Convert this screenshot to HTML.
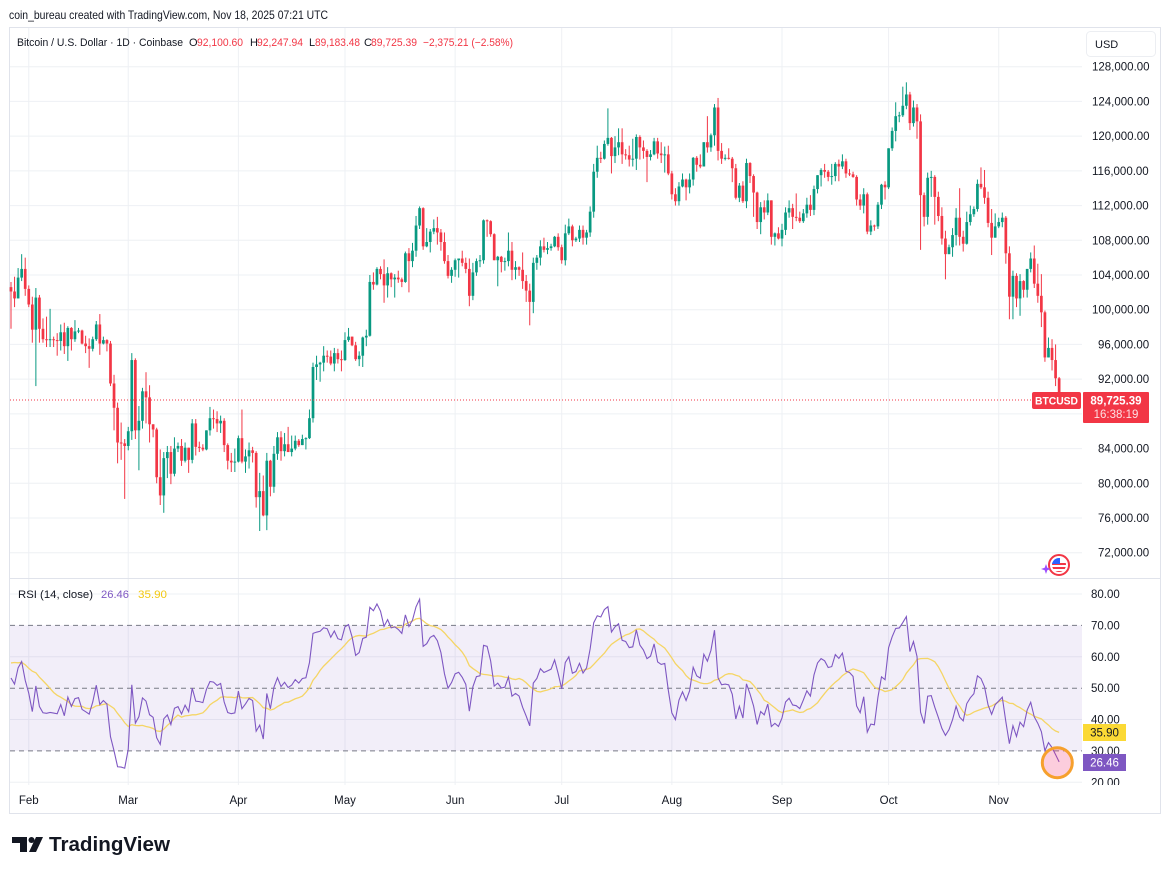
<!DOCTYPE html>
<html>
<head>
<meta charset="utf-8">
<style>
  html,body{margin:0;padding:0;background:#fff;}
  svg{display:block;}
  text{font-family:"Liberation Sans",Arial,sans-serif;}
</style>
</head>
<body>
<svg id="c" width="1170" height="874" viewBox="0 0 1170 874" xmlns="http://www.w3.org/2000/svg">
  <rect x="0" y="0" width="1170" height="874" fill="#ffffff"/>
  <!-- header -->
  <text x="9" y="19" font-size="12" fill="#131722" textLength="319" lengthAdjust="spacingAndGlyphs">coin_bureau created with TradingView.com, Nov 18, 2025 07:21 UTC</text>
  <!-- frame -->
  <rect x="9.5" y="27.5" width="1151" height="786" fill="none" stroke="#e0e3eb" stroke-width="1"/>

  <g id="grid"></g>

  <!-- RSI band -->
  <rect x="10" y="625.4" width="1072" height="125.5" fill="rgba(126,87,194,0.1)"/>
  <g stroke="#787b86" stroke-width="1" stroke-dasharray="5 4" fill="none">
    <line x1="10" y1="625.4" x2="1082" y2="625.4"/>
    <line x1="10" y1="688.2" x2="1082" y2="688.2"/>
    <line x1="10" y1="750.9" x2="1082" y2="750.9"/>
  </g>

  <!-- pane separator -->
  <line x1="10" y1="578.5" x2="1160" y2="578.5" stroke="#e0e3eb" stroke-width="1"/>

  <g id="candles"></g>

  <defs>
    <clipPath id="rsiclip"><rect x="10" y="579" width="1072" height="206"/></clipPath>
    <clipPath id="axclip"><rect x="1083" y="579" width="77" height="206"/></clipPath>
  </defs>
  <g id="rsi" clip-path="url(#rsiclip)"></g>

  <!-- current price line -->
  <line x1="10" y1="400" x2="1031" y2="400" stroke="#f23645" stroke-width="1" stroke-dasharray="1 2"/>

  <!-- legend -->
  <text x="17" y="46" font-size="11" fill="#131722" textLength="166" lengthAdjust="spacingAndGlyphs">Bitcoin / U.S. Dollar · 1D · Coinbase</text>
  <text x="189" y="46" font-size="11" fill="#131722">O</text>
  <text x="197" y="46" font-size="11" fill="#f23645" textLength="46" lengthAdjust="spacingAndGlyphs">92,100.60</text>
  <text x="250" y="46" font-size="11" fill="#131722">H</text>
  <text x="257" y="46" font-size="11" fill="#f23645" textLength="46" lengthAdjust="spacingAndGlyphs">92,247.94</text>
  <text x="309" y="46" font-size="11" fill="#131722">L</text>
  <text x="315" y="46" font-size="11" fill="#f23645" textLength="45" lengthAdjust="spacingAndGlyphs">89,183.48</text>
  <text x="364" y="46" font-size="11" fill="#131722">C</text>
  <text x="371" y="46" font-size="11" fill="#f23645" textLength="46" lengthAdjust="spacingAndGlyphs">89,725.39</text>
  <text x="423" y="46" font-size="11" fill="#f23645" textLength="90" lengthAdjust="spacingAndGlyphs">−2,375.21 (−2.58%)</text>

  <!-- USD button -->
  <rect x="1086.5" y="31.5" width="69" height="25" rx="4" fill="#fff" stroke="#eceef2"/>
  <text x="1095" y="48" font-size="11" fill="#131722">USD</text>

  <!-- price axis -->
  <g font-size="11.5" fill="#131722">
    <text x="1092" y="70.7">128,000.00</text>
    <text x="1092" y="105.4">124,000.00</text>
    <text x="1092" y="140.1">120,000.00</text>
    <text x="1092" y="174.8">116,000.00</text>
    <text x="1092" y="209.6">112,000.00</text>
    <text x="1092" y="244.3">108,000.00</text>
    <text x="1092" y="279.0">104,000.00</text>
    <text x="1092" y="313.7">100,000.00</text>
    <text x="1098" y="348.4">96,000.00</text>
    <text x="1098" y="383.1">92,000.00</text>
    <text x="1098" y="452.6">84,000.00</text>
    <text x="1098" y="487.3">80,000.00</text>
    <text x="1098" y="522.0">76,000.00</text>
    <text x="1098" y="556.7">72,000.00</text>
  </g>

  <!-- price labels -->
  <rect x="1032" y="392" width="49" height="17" rx="2" fill="#f23645"/>
  <text x="1056.5" y="404.5" font-size="11" fill="#fff" text-anchor="middle" font-weight="bold" textLength="43" lengthAdjust="spacingAndGlyphs">BTCUSD</text>
  <rect x="1083" y="392" width="66" height="31" rx="1" fill="#f23645"/>
  <text x="1116" y="404.5" font-size="11.5" fill="#fff" text-anchor="middle" font-weight="bold">89,725.39</text>
  <text x="1116" y="418" font-size="11.5" fill="#fde0e3" text-anchor="middle">16:38:19</text>

  <!-- flag icon -->
  <g>
    <circle cx="1059" cy="565" r="10" fill="#fff" stroke="#f23645" stroke-width="2"/>
    <clipPath id="fc"><circle cx="1059" cy="565" r="7"/></clipPath>
    <g clip-path="url(#fc)">
      <rect x="1051" y="557" width="16" height="16" fill="#fff"/>
      <rect x="1051" y="563" width="16" height="2" fill="#f23645"/>
      <rect x="1051" y="567" width="16" height="2" fill="#f23645"/>
      <rect x="1051" y="571" width="16" height="2" fill="#f23645"/>
      <rect x="1051" y="557" width="9" height="7" fill="#2962ff"/>
    </g>
    <path d="M1046,564 L1047.3,567.7 L1051,569 L1047.3,570.3 L1046,574 L1044.7,570.3 L1041,569 L1044.7,567.7 Z" fill="#9c4dff"/>
  </g>

  <!-- RSI legend -->
  <text x="18" y="598" font-size="11" fill="#131722" textLength="75" lengthAdjust="spacingAndGlyphs">RSI (14, close)</text>
  <text x="101" y="598" font-size="11" fill="#7e57c2" textLength="28" lengthAdjust="spacingAndGlyphs">26.46</text>
  <text x="138" y="598" font-size="11" fill="#f2c811" textLength="29" lengthAdjust="spacingAndGlyphs">35.90</text>

  <!-- RSI axis -->
  <g font-size="11.5" fill="#131722" clip-path="url(#axclip)">
    <text x="1091" y="598">80.00</text>
    <text x="1091" y="629.4">70.00</text>
    <text x="1091" y="660.8">60.00</text>
    <text x="1091" y="692.2">50.00</text>
    <text x="1091" y="723.5">40.00</text>
    <text x="1091" y="754.9">30.00</text>
    <text x="1091" y="786.3">20.00</text>
  </g>
  <rect x="1083" y="724" width="43" height="17" fill="#fbd935"/>
  <text x="1104.5" y="736.5" font-size="11.5" fill="#131722" text-anchor="middle">35.90</text>
  <rect x="1083" y="754" width="43" height="17" fill="#7e57c2"/>
  <text x="1104.5" y="766.5" font-size="11.5" fill="#fff" text-anchor="middle">26.46</text>

  <!-- highlight circle -->
  <circle cx="1057.3" cy="762.7" r="15" fill="rgba(242,54,118,0.25)" stroke="#f6a02d" stroke-width="3"/>

  <!-- time axis -->
  <g font-size="11.5" fill="#131722" text-anchor="middle">
    <text x="28.8" y="804">Feb</text>
    <text x="128.2" y="804">Mar</text>
    <text x="238.4" y="804">Apr</text>
    <text x="345" y="804">May</text>
    <text x="455.1" y="804">Jun</text>
    <text x="561.7" y="804">Jul</text>
    <text x="671.9" y="804">Aug</text>
    <text x="782" y="804">Sep</text>
    <text x="888.6" y="804">Oct</text>
    <text x="998.7" y="804">Nov</text>
  </g>

  <!-- TradingView logo -->
  <g fill="#131722">
    <path d="M12,837 H27 V852 H20 V843 H12 Z"/>
    <circle cx="31.5" cy="840" r="3"/>
    <path d="M36,837 H43 L36,852 H29 Z"/>
  </g>
  <text x="49" y="851" font-size="20.5" font-weight="bold" fill="#131722" textLength="121" lengthAdjust="spacingAndGlyphs">TradingView</text>
</svg>

<script>
(function(){
  var NS="http://www.w3.org/2000/svg";
  function el(tag, attrs, parent){
    var e=document.createElementNS(NS,tag);
    for(var k in attrs) e.setAttribute(k, attrs[k]);
    parent.appendChild(e); return e;
  }
  function X(i){return 11+i*3.553;}
  function YP(p){return 66.7+(128-p)*8.679;}
  function YR(r){return 782.3-(r-20)*3.138;}

  // grid
  var g=document.getElementById('grid');
  var gc="#eef0f4";
  for(var p=128;p>=72;p-=4){
    var y=YP(p);
    el('line',{x1:10,y1:y,x2:1082,y2:y,stroke:gc,'stroke-width':1},g);
  }
  [80,60,40,20].forEach(function(r){
    var y=YR(r);
    el('line',{x1:10,y1:y,x2:1082,y2:y,stroke:gc,'stroke-width':1},g);
  });
  [5,33,64,94,125,155,186,217,247,278].forEach(function(i){
    var x=X(i);
    el('line',{x1:x,y1:28,x2:x,y2:785,stroke:gc,'stroke-width':1},g);
  });

  var raw = "103.2 97.8 102.1;103.8 100.3 101.3;104.8 101.3 103.7;106.4 103.3 104.7;106.0 101.6 102.4;"+
  // Feb
  "102.8 100.3 100.6;101.5 96.2 97.7;102.5 91.2 101.4;101.7 96.2 97.8;99.0 96.2 96.6;99.2 95.7 96.5;100.1 95.7 96.6;96.9 95.7 96.5;97.3 94.7 96.4;98.3 95.3 97.4;"+
  "98.5 94.9 95.8;98.1 94.1 97.9;98.0 95.3 96.6;98.8 96.3 97.5;97.9 97.3 97.6;97.7 96.0 96.1;97.0 95.0 95.8;96.7 93.3 95.5;96.9 95.2 96.6;98.7 96.4 98.3;"+
  "99.5 94.8 96.1;96.9 96.0 96.5;96.6 95.2 96.1;96.4 91.2 91.5;92.5 86.1 88.7;89.3 82.3 84.7;87.0 82.7 84.6;85.1 78.2 84.3;"+
  // Mar
  "86.5 83.8 86.0;95.0 85.0 94.2;94.4 85.1 86.1;88.9 81.5 87.2;91.0 86.3 90.6;92.8 86.9 89.9;91.3 84.7 86.8;86.8 85.3 86.2;86.4 80.0 80.7;83.9 77.5 78.6;"+
  "83.6 76.6 82.9;84.3 80.6 83.6;84.3 79.9 81.1;85.3 80.8 84.0;84.7 83.6 84.3;85.1 82.0 82.6;84.7 82.4 84.1;84.1 81.2 82.7;87.4 82.3 86.9;87.4 83.2 84.2;"+
  "84.8 83.6 84.1;84.5 83.7 83.9;86.1 83.8 86.1;88.8 85.5 87.5;88.5 86.3 87.4;88.3 85.9 86.9;87.8 85.8 87.2;87.5 83.6 84.4;84.6 81.6 82.6;83.5 81.3 82.4;84.0 81.3 82.5;"+
  // Apr
  "85.5 82.4 85.2;88.5 82.3 82.5;83.9 81.2 83.1;84.7 81.7 83.8;84.2 82.4 83.5;83.7 77.2 78.4;81.2 74.5 79.1;80.9 76.2 76.3;83.5 74.6 82.6;82.7 78.5 79.6;"+
  "84.3 78.9 83.4;85.9 82.7 85.3;86.0 82.6 83.7;85.8 83.1 84.5;86.5 83.6 83.6;85.5 83.1 84.0;85.5 83.8 84.9;85.1 84.2 84.4;85.6 84.4 85.1;85.3 83.9 85.2;"+
  "88.5 85.1 87.5;93.9 87.0 93.4;94.7 91.9 93.7;94.0 91.7 93.9;95.8 92.9 94.7;95.3 93.9 94.6;95.3 93.6 93.8;95.6 92.9 95.0;95.5 93.8 94.3;95.3 92.9 94.2;"+
  // May
  "97.4 94.1 96.5;97.9 96.3 96.9;96.9 95.8 95.9;96.3 94.1 94.3;95.2 93.5 94.7;96.9 93.4 96.8;97.7 95.8 97.0;104.0 96.9 103.2;104.3 102.3 102.9;104.9 102.8 104.7;"+
  "105.0 103.5 104.1;105.8 100.8 102.8;104.9 101.4 104.2;104.3 102.6 103.5;104.1 101.4 103.7;104.5 103.1 103.5;103.7 102.6 103.2;106.7 103.1 106.5;107.1 102.0 105.6;107.7 104.9 106.8;"+
  "110.8 106.1 109.7;111.9 109.3 111.7;111.8 106.9 107.3;109.4 107.2 107.8;109.3 106.6 109.0;110.4 108.7 109.4;110.7 107.5 108.9;109.3 106.8 107.8;108.9 105.3 105.6;106.3 103.6 103.9;104.9 103.1 104.6;"+
  // Jun
  "105.9 103.8 105.7;105.9 103.7 105.9;106.8 105.0 105.4;106.0 104.2 104.7;105.9 100.4 101.6;105.4 101.1 104.3;105.9 103.9 105.6;106.3 104.9 105.7;110.4 105.3 110.3;110.4 108.4 110.2;"+
  "110.3 108.4 108.7;108.8 105.7 105.7;106.2 102.7 106.1;106.2 104.3 105.5;106.0 104.5 105.6;108.9 105.0 106.8;107.8 103.4 104.6;105.6 103.5 104.9;105.0 103.9 104.6;106.6 102.4 103.3;"+
  "104.0 100.9 102.2;103.0 98.2 100.9;106.0 99.6 105.4;106.3 104.6 106.0;108.0 105.1 107.3;108.3 106.6 106.9;107.8 106.4 107.1;107.6 106.8 107.3;108.5 107.2 108.4;108.8 106.8 107.2;"+
  // Jul
  "107.5 105.3 105.7;109.8 105.1 108.8;110.5 108.6 109.6;109.8 107.3 108.0;108.4 107.8 108.2;109.7 107.8 109.2;109.7 107.5 108.3;109.2 107.5 108.9;111.9 108.4 111.3;116.8 110.6 115.9;"+
  "118.9 115.2 117.5;118.2 116.9 117.4;119.5 117.3 119.1;123.2 118.9 119.8;119.9 115.7 117.7;120.0 116.9 118.7;120.9 117.8 119.3;120.9 116.8 117.9;118.5 117.3 117.8;118.9 116.5 117.3;"+
  "119.7 116.5 117.4;120.2 116.1 119.9;120.1 117.3 118.7;119.5 117.4 118.3;118.5 114.7 117.6;118.4 117.2 117.9;119.8 117.8 119.4;119.8 117.4 118.0;119.3 116.9 117.8;118.8 115.8 117.9;118.9 115.5 115.7;"+
  // Aug
  "116.0 112.7 113.3;114.0 112.0 112.5;114.7 112.0 114.2;115.7 114.1 115.0;115.1 112.6 114.1;115.7 113.4 115.0;117.6 114.3 117.5;117.7 115.9 116.7;117.9 116.3 116.5;119.3 116.5 119.3;"+
  "122.3 118.1 118.7;120.3 118.2 120.1;123.7 118.9 123.3;124.4 117.2 118.3;119.2 116.8 117.4;117.9 117.2 117.5;118.6 117.3 117.4;117.6 114.7 116.3;116.8 112.7 112.9;114.6 112.4 114.3;"+
  "114.8 112.3 112.5;117.4 111.7 116.9;117.0 114.6 115.4;115.6 110.7 113.5;113.6 109.3 110.1;112.4 108.7 111.8;112.6 110.4 111.2;113.4 110.9 112.6;112.6 107.5 108.4;108.9 107.4 108.8;109.5 108.1 108.2;"+
  // Sep
  "109.9 107.3 109.2;111.8 108.6 111.2;112.6 110.6 111.7;112.2 109.3 110.7;113.4 110.2 110.6;111.3 110.0 110.2;111.6 110.0 111.1;112.9 110.6 112.1;113.2 110.8 111.5;114.3 110.9 113.9;"+
  "115.5 113.4 115.5;116.3 114.2 116.1;116.8 115.2 115.9;116.1 114.8 115.3;116.8 114.4 115.4;117.0 114.8 116.8;117.3 114.8 116.5;117.9 116.2 117.1;117.4 115.2 115.7;116.2 115.4 115.6;"+
  "115.9 115.2 115.3;115.5 112.0 112.7;113.3 111.5 112.0;114.0 111.1 113.3;113.5 108.7 109.0;110.3 108.6 109.7;109.8 109.1 109.6;112.4 109.3 112.1;114.5 111.6 114.4;114.8 112.7 114.1;"+
  // Oct
  "118.6 113.9 118.6;121.0 118.3 120.6;123.9 119.4 122.3;122.8 121.6 122.4;125.7 122.2 123.5;126.2 123.1 124.8;125.1 120.7 121.5;124.1 121.1 123.3;123.7 119.7 121.7;122.5 106.9 113.2;"+
  "113.5 109.6 110.7;115.8 109.8 115.2;116.0 113.0 115.3;115.5 109.8 113.0;113.6 110.2 110.8;111.8 107.5 108.2;109.1 103.5 106.4;107.5 106.4 107.2;109.4 106.1 108.6;111.7 107.4 110.6;"+
  "114.0 107.4 108.4;109.1 106.7 107.6;111.3 107.5 110.1;112.0 109.7 111.0;111.9 110.7 111.6;115.0 111.3 114.5;116.4 113.9 114.1;116.1 112.2 112.9;113.6 109.5 110.0;111.6 106.3 108.3;111.1 108.3 109.6;"+
  // Nov
  "110.6 109.4 110.1;111.2 109.5 110.6;110.8 105.3 106.5;107.3 98.9 101.5;104.5 98.9 103.9;104.2 100.3 101.3;104.1 99.3 103.3;103.4 101.4 102.3;104.7 101.4 104.7;106.6 104.3 105.9;"+
  "107.4 102.5 103.0;105.3 100.8 101.6;104.1 98.0 99.7;99.9 94.0 94.5;96.8 94.5 95.6;96.6 93.0 94.2;96.0 91.2 92.1;92.25 89.18 89.73";

  var parts = raw.split(';');
  var cg=document.getElementById('candles');
  var prev=102.6, closes=[];
  var n=parts.length, offset = 295-(n-1);
  for(var k=0;k<n;k++){
    var v=parts[k].trim().split(/\s+/).map(Number);
    var H=v[0],L=v[1],C=v[2],O=prev; prev=C;
    H=Math.max(H,O,C); L=Math.min(L,O,C);
    closes.push(C);
    var i=k+offset, x=X(i);
    var col = C>=O ? "#089981" : "#f23645";
    el('line',{x1:x,y1:YP(H),x2:x,y2:YP(L),stroke:col,'stroke-width':1},cg);
    var y1=YP(Math.max(O,C)), y2=YP(Math.min(O,C));
    var h=Math.max(1,y2-y1);
    el('rect',{x:x-1.35,y:y1,width:2.7,height:h,fill:col},cg);
  }

  // RSI
  var warm=[97.8,97.3,95.2,94.9,98.7,99.4,95.8,94.2,95.2,93.6,92.7,93.4,94.4,96.9,98.1,98.2,98.3,102.2,96.9,95.0,92.5,94.7,94.5,94.5,94.5,96.5,100.5,99.9,104.1,104.4,101.1,102.0,106.1,103.7,104.0,104.7,104.8,102.6];
  var all=warm.concat(closes);
  var rsi=[], ag=0, al=0;
  for(var j=1;j<all.length;j++){
    var d=all[j]-all[j-1], gn=d>0?d:0, ls=d<0?-d:0;
    if(j<=14){ ag+=gn/14; al+=ls/14; if(j<14){rsi[j]=null;continue;} }
    else { ag=(ag*13+gn)/14; al=(al*13+ls)/14; }
    rsi[j]= al===0?100:100-100/(1+ag/al);
  }
  var ma=[];
  for(var j=0;j<all.length;j++){
    var s=0,c=0;
    for(var q=j-13;q<=j;q++){ if(q>=0 && rsi[q]!=null){s+=rsi[q];c++;} }
    ma[j]= c>=14 ? s/c : (c>0? s/c : null);
  }
  var rp=[], mp=[];
  for(var k=0;k<n;k++){
    var j=k+warm.length, x=X(k+offset).toFixed(2);
    if(rsi[j]!=null) rp.push(x+","+YR(rsi[j]).toFixed(2));
    if(ma[j]!=null) mp.push(x+","+YR(ma[j]).toFixed(2));
  }
  var rg=document.getElementById('rsi');
  el('polyline',{points:mp.join(' '),fill:'none',stroke:'#f5d565','stroke-width':1.3},rg);
  el('polyline',{points:rp.join(' '),fill:'none',stroke:'#7e57c2','stroke-width':1.1},rg);
})();
</script>
</body>
</html>
